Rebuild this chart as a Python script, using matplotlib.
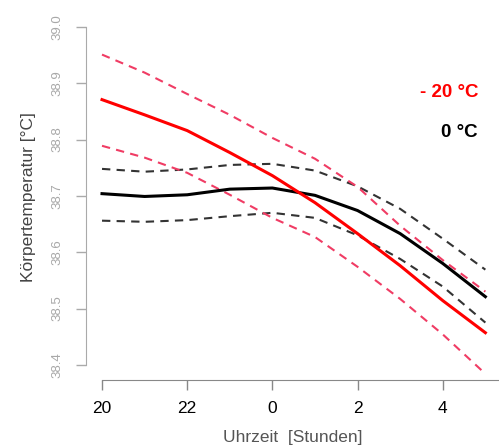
import matplotlib
matplotlib.use("Agg")
import matplotlib.pyplot as plt

plt.rcParams['font.family'] = ['Liberation Sans', 'DejaVu Sans']

# hours since midnight of day 1 (24 = 0 Uhr, 28 = 4 Uhr)
hours = [20, 21, 22, 23, 24, 25, 26, 27, 28, 29]
xticks = [20, 22, 24, 26, 28]
xtick_labels = ['20', '22', '0', '2', '4']
yticks = [38.4, 38.5, 38.6, 38.7, 38.8, 38.9, 39.0]

# -20 °C: fit and confidence band
cold_fit = [38.871, 38.844, 38.816, 38.777, 38.736, 38.688, 38.633, 38.576, 38.514, 38.457]
cold_hi = [38.951, 38.919, 38.881, 38.844, 38.803, 38.766, 38.716, 38.647, 38.586, 38.530]
cold_lo = [38.789, 38.768, 38.741, 38.702, 38.661, 38.627, 38.574, 38.517, 38.454, 38.384]

# 0 °C: fit and confidence band
warm_fit = [38.704, 38.699, 38.702, 38.712, 38.714, 38.701, 38.674, 38.633, 38.580, 38.521]
warm_hi = [38.748, 38.743, 38.747, 38.755, 38.757, 38.745, 38.717, 38.677, 38.624, 38.569]
warm_lo = [38.656, 38.654, 38.657, 38.664, 38.670, 38.661, 38.630, 38.588, 38.539, 38.475]

fig = plt.figure(figsize=(4.99, 4.48), dpi=100)
ax = fig.add_axes([86 / 499, 68 / 448, 413 / 499, 366.5 / 448])

dash = (0, (4, 3))
ax.plot(hours, warm_hi, color='#333333', lw=1.5, ls=dash)
ax.plot(hours, warm_lo, color='#333333', lw=1.5, ls=dash)
ax.plot(hours, cold_hi, color='#f03c64', lw=1.5, ls=dash)
ax.plot(hours, cold_lo, color='#f03c64', lw=1.5, ls=dash)
ax.plot(hours, warm_fit, color='black', lw=2.2)
ax.plot(hours, cold_fit, color='#ff0000', lw=2.2)

ax.set_xlim(19.624, 29.32)
ax.set_ylim(38.373, 39.024)

for s in ['top', 'right']:
    ax.spines[s].set_visible(False)
ax.spines['left'].set_bounds(38.4, 39.0)
ax.spines['bottom'].set_bounds(20, 29.32)
ax.spines['left'].set_color('#aaaaaa')
ax.spines['bottom'].set_color('#888888')

ax.set_xticks(xticks)
ax.set_xticklabels(xtick_labels, fontsize=12.5, color='black')
ax.set_yticks(yticks)
ax.set_yticklabels([f'{v:.1f}' for v in yticks], fontsize=9.5, color='#a8a8a8',
                   rotation=90, va='center')
ax.tick_params(axis='both', length=7, width=1)
ax.tick_params(axis='x', pad=8, color='#888888')
ax.tick_params(axis='y', pad=9, color='#aaaaaa')

ax.set_xlabel('Uhrzeit  [Stunden]', fontsize=12.5, color='#555555', labelpad=10)
ax.set_ylabel('Körpertemperatur [°C]', fontsize=12.5, color='#444444', labelpad=11)

ax.text(478, 448 - 92, '- 20 °C', transform=None, color='#ff0000', fontsize=13.5,
        fontweight='bold', ha='right', va='center')
ax.text(478, 448 - 132, '0 °C', transform=None, color='black', fontsize=13.5,
        fontweight='bold', ha='right', va='center')

fig.savefig('out.png', dpi=100)
